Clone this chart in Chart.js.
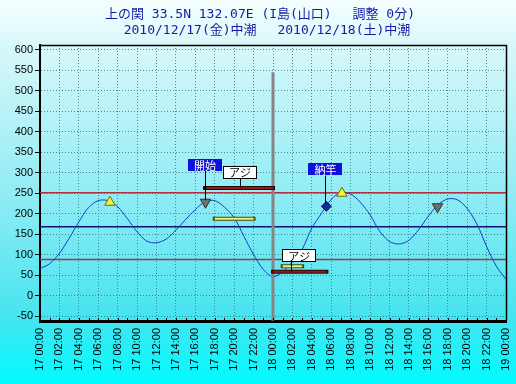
<!DOCTYPE html>
<html>
<head>
<meta charset="utf-8">
<script src="https://cdn.jsdelivr.net/npm/chart.js@4.4.0/dist/chart.umd.min.js"></script>
<style>
  html, body { margin: 0; padding: 0; background: #fff; }
  #wrap { width: 516px; height: 384px; }
</style>
</head>
<body>
<div id="wrap"><canvas id="tideChart" width="516" height="384"></canvas></div>
<script>
// --- data ---
// hours from 17th 00:00
const hours = [0,1,2,3,4,5,6,7,8,9,10,11,12,13,14,15,16,17,18,19,20,21,22,23,24,
               25,26,27,28,29,30,31,32,33,34,35,36,37,38,39,40,41,42,43,44,45,46,47,48];
// tide level (cm)
const tideLevel = [66,78,103,140,180,215,232,232,217,188,156,133,129,138,160,186,210,229,232,216,190,145,100,64,46,
                   58,82,113,165,201,235,252,248,228,197,157,132,126,135,161,194,222,236,234,213,175,120,72,40];

const xTickHours = [0,2,4,6,8,10,12,14,16,18,20,22,24,26,28,30,32,34,36,38,40,42,44,46,48];
const xTickLabels = ['17 00:00','17 02:00','17 04:00','17 06:00','17 08:00','17 10:00','17 12:00',
                     '17 14:00','17 16:00','17 18:00','17 20:00','17 22:00','18 00:00','18 02:00',
                     '18 04:00','18 06:00','18 08:00','18 10:00','18 12:00','18 14:00','18 16:00',
                     '18 18:00','18 20:00','18 22:00','19 00:00'];
const yTicks = [-50,0,50,100,150,200,250,300,350,400,450,500,550,600];

// horizontal reference levels
const highLevel = 251;
const meanLevel = 168;
const lowLevel = 88;

// day change line
const dayChangeHour = 24;
const dayLineTop = 545;

// fishing bars (dark red) and catch bars (yellow)
const redStart = [17, 24];
const redEnd = [24, 29.5];
const redLevel = [263, 58];
const yelStart = [18, 25];
const yelEnd = [22, 27];
const yelLevel = [188, 72];

// markers
const highHour = [7.2, 31.1];
const highMark = [228, 250];
const downHour = [17.05, 40.95];
const downMark = [228, 217];
const endHour = [29.5];
const endMark = [218];

// notes
const noteText = ['開始', 'アジ', '納竿', 'アジ'];
const noteHour = [17, 20.6, 29.4, 26.7];
const noteLevel = [318, 301, 308, 97];
const noteBlue = [true, false, true, false];
// leader lines: hour, from level, to level
const leadHour = [17, 20.6, 29.4, 25.9];
const leadFrom = [305, 285, 293, 83];
const leadTo = [233, 263, 224, 58];

const titleLines = ['上の関 33.5N 132.07E (I島(山口)　 調整 0分)',
                    '2010/12/17(金)中潮　 2010/12/18(土)中潮'];

// --- helpers ---
function flatLine(start, end, level) {
  return [{x: start, y: level}, {x: end, y: level}];
}
function segments(starts, ends, levels) {
  let out = [];
  for (let i = 0; i < starts.length; i++) {
    if (i > 0) out.push({x: starts[i], y: null});
    out.push({x: starts[i], y: levels[i]});
    out.push({x: ends[i], y: levels[i]});
  }
  return out;
}
function points(xs, ys) {
  return xs.map((x, i) => ({x: x, y: ys[i]}));
}

const minHour = hours[0];
const maxHour = hours[hours.length - 1];

// --- plugins ---
const backgroundPlugin = {
  id: 'background',
  beforeDraw(chart) {
    const ctx = chart.ctx;
    const g = ctx.createLinearGradient(0, 0, 0, chart.height);
    g.addColorStop(0, '#f4ffff');
    g.addColorStop(0.12, '#d8f8fa');
    g.addColorStop(0.5, '#92ecf4');
    g.addColorStop(0.82, '#48e4f0');
    g.addColorStop(1, '#00fbff');
    ctx.save();
    ctx.fillStyle = g;
    ctx.fillRect(0, 0, chart.width, chart.height);
    ctx.restore();
  }
};

const decorPlugin = {
  id: 'decor',
  afterDatasetsDraw(chart) {
    const ctx = chart.ctx;
    const xs = chart.scales.x, ys = chart.scales.y;
    const area = chart.chartArea;
    ctx.save();

    // small hour ticks along the bottom
    ctx.strokeStyle = '#000';
    ctx.lineWidth = 1;
    hours.forEach(h => {
      const px = Math.round(xs.getPixelForValue(h)) + 0.5;
      ctx.beginPath();
      ctx.moveTo(px, area.bottom - 3);
      ctx.lineTo(px, area.bottom);
      ctx.stroke();
    });

    // leader lines
    ctx.strokeStyle = '#000';
    ctx.lineWidth = 1;
    for (let i = 0; i < leadHour.length; i++) {
      const px = Math.round(xs.getPixelForValue(leadHour[i])) + 0.5;
      ctx.beginPath();
      ctx.moveTo(px, ys.getPixelForValue(leadFrom[i]));
      ctx.lineTo(px, ys.getPixelForValue(leadTo[i]));
      ctx.stroke();
    }

    // note boxes
    ctx.font = '11px "Noto Sans CJK JP"';
    ctx.textAlign = 'center';
    ctx.textBaseline = 'middle';
    for (let i = 0; i < noteText.length; i++) {
      const cx = xs.getPixelForValue(noteHour[i]);
      const cy = ys.getPixelForValue(noteLevel[i]);
      const w = Math.round(ctx.measureText(noteText[i]).width + 12);
      const h = noteBlue[i] ? 12 : 13;
      const left = Math.round(cx - w / 2), top = Math.round(cy - h / 2);
      if (noteBlue[i]) {
        ctx.fillStyle = '#1010dc';
        ctx.fillRect(left, top, w, h);
        ctx.fillStyle = '#fff';
      } else {
        ctx.fillStyle = '#ffffff';
        ctx.fillRect(left, top, w, h);
        ctx.strokeStyle = '#000';
        ctx.strokeRect(left + 0.5, top + 0.5, w - 1, h - 1);
        ctx.fillStyle = '#000';
      }
      ctx.fillText(noteText[i], cx, cy + 0.5);
    }

    // frame
    ctx.strokeStyle = '#000';
    ctx.lineWidth = 1.5;
    ctx.beginPath();
    ctx.moveTo(area.left, area.top + 0.5);
    ctx.lineTo(area.right + 0.5, area.top + 0.5);
    ctx.lineTo(area.right + 0.5, area.bottom);
    ctx.stroke();
    ctx.restore();
  },
  afterDraw(chart) {
    const ctx = chart.ctx;
    ctx.save();
    ctx.fillStyle = '#1818a8';
    ctx.font = '13px "DejaVu Sans Mono", "Noto Sans CJK JP"';
    ctx.textAlign = 'center';
    ctx.textBaseline = 'middle';
    ctx.fillText(titleLines[0], 260, 15);
    ctx.fillText(titleLines[1], 267, 31);
    ctx.restore();
  }
};

// --- chart ---
const gridColor = 'rgba(30,110,120,0.75)';
const ctx = document.getElementById('tideChart').getContext('2d');

new Chart(ctx, {
  type: 'line',
  data: {
    datasets: [
      {
        label: 'high',
        data: points(highHour, highMark),
        showLine: false,
        pointStyle: 'triangle',
        pointRadius: 6,
        pointBackgroundColor: '#f4f040',
        pointBorderColor: '#707000',
        pointBorderWidth: 1,
        order: 0
      },
      {
        label: 'down',
        data: points(downHour, downMark),
        showLine: false,
        pointStyle: 'triangle',
        rotation: 180,
        pointRadius: 6,
        pointBackgroundColor: '#707070',
        pointBorderColor: '#303030',
        pointBorderWidth: 1,
        order: 0
      },
      {
        label: 'end',
        data: points(endHour, endMark),
        showLine: false,
        pointStyle: 'rectRot',
        pointRadius: 5,
        pointBackgroundColor: '#1a2a9a',
        pointBorderColor: '#101060',
        pointBorderWidth: 1,
        order: 0
      },
      { // yellow bars core
        data: segments(yelStart, yelEnd, yelLevel),
        borderColor: '#f2f27a',
        borderWidth: 2,
        pointRadius: 0,
        spanGaps: false,
        order: 1
      },
      { // yellow bars outline
        data: segments(yelStart, yelEnd, yelLevel),
        borderColor: '#4a4a10',
        borderWidth: 4,
        pointRadius: 0,
        spanGaps: false,
        borderCapStyle: 'square',
        order: 2
      },
      { // red bars core
        data: segments(redStart, redEnd, redLevel),
        borderColor: '#8a1c1c',
        borderWidth: 2,
        pointRadius: 0,
        spanGaps: false,
        order: 3
      },
      { // red bars outline
        data: segments(redStart, redEnd, redLevel),
        borderColor: '#2a0808',
        borderWidth: 4,
        pointRadius: 0,
        spanGaps: false,
        borderCapStyle: 'square',
        order: 4
      },
      { // day change line
        data: [{x: dayChangeHour, y: -70}, {x: dayChangeHour, y: dayLineTop}],
        borderColor: '#858585',
        borderWidth: 3,
        pointRadius: 0,
        order: 5
      },
      { // tide curve
        label: 'tide',
        data: points(hours, tideLevel),
        borderColor: '#1a3cc0',
        borderWidth: 1,
        pointRadius: 0,
        tension: 0.3,
        order: 6
      },
      {
        data: flatLine(minHour, maxHour, highLevel),
        borderColor: '#b03040',
        borderWidth: 1.5,
        pointRadius: 0,
        order: 7
      },
      {
        data: flatLine(minHour, maxHour, meanLevel),
        borderColor: '#10107a',
        borderWidth: 1.5,
        pointRadius: 0,
        order: 7
      },
      {
        data: flatLine(minHour, maxHour, lowLevel),
        borderColor: '#b03040',
        borderWidth: 1.5,
        pointRadius: 0,
        order: 7
      }
    ]
  },
  options: {
    responsive: false,
    animation: false,
    events: [],
    layout: { padding: { top: 45, right: 10, left: 0, bottom: 0 } },
    plugins: { legend: { display: false }, tooltip: { enabled: false }, title: { display: false } },
    scales: {
      x: {
        type: 'linear',
        min: minHour,
        max: maxHour,
        afterBuildTicks: scale => { scale.ticks = xTickHours.map(v => ({value: v})); },
        afterFit: scale => { scale.height = 63; scale.paddingLeft = 0; scale.paddingRight = 0; },
        ticks: {
          autoSkip: false,
          minRotation: 90,
          maxRotation: 90,
          padding: 7,
          color: '#000',
          font: { family: 'Liberation Sans', size: 11 },
          callback: (v) => xTickLabels[xTickHours.indexOf(v)]
        },
        grid: { color: gridColor, lineWidth: 1, drawTicks: false },
        border: { display: true, color: '#000', width: 3, dash: [1, 2] }
      },
      y: {
        min: -62,
        max: 612,
        afterBuildTicks: scale => { scale.ticks = yTicks.map(v => ({value: v})); },
        afterFit: scale => { scale.width = 40; scale.paddingTop = 0; scale.paddingBottom = 0; },
        ticks: {
          padding: 2,
          color: '#000',
          font: { family: 'Liberation Sans', size: 11 }
        },
        grid: { color: gridColor, lineWidth: 1, drawTicks: true, tickLength: 5, tickColor: '#000' },
        border: { display: true, color: '#000', width: 2, dash: [1, 2] }
      }
    }
  },
  plugins: [backgroundPlugin, decorPlugin]
});
</script>
</body>
</html>
